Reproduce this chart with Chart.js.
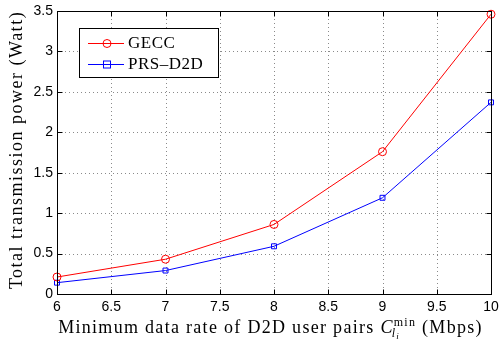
<!DOCTYPE html>
<html>
<head>
<meta charset="utf-8">
<script src="https://cdn.jsdelivr.net/npm/chart.js@4/dist/chart.umd.min.js"></script>
<style>
html,body{margin:0;padding:0;background:#fff;}
#wrap{width:499px;height:342px;position:relative;}
</style>
</head>
<body>
<div id="wrap"><canvas id="c"></canvas></div>
<script>
const rates = [6, 7, 8, 9, 10];
const geccPower = [0.21, 0.43, 0.86, 1.76, 3.46];
const prsPower = [0.14, 0.29, 0.59, 1.19, 2.37];
const seriesNames = ['GECC', 'PRS\u2013D2D'];
const xTicks = [6, 6.5, 7, 7.5, 8, 8.5, 9, 9.5, 10];
const yTicks = [0, 0.5, 1, 1.5, 2, 2.5, 3, 3.5];
const yTitle = 'Total transmission power (Watt)';
const xTitleMain = 'Minimum data rate of D2D user pairs ';
const xTitleUnit = ' (Mbps)';

const SERIF = '"Liberation Serif", "Times New Roman", serif';
const SANS = '"Liberation Sans", Arial, sans-serif';

const matlabPlugin = {
  id: 'matlab',
  beforeDatasetsDraw(chart) {
    const {ctx, chartArea: a, scales: {x, y}} = chart;
    ctx.save();
    ctx.strokeStyle = '#8a8a8a';
    ctx.lineWidth = 1;
    ctx.setLineDash([1, 3]);
    xTicks.forEach(v => {
      const px = Math.round(x.getPixelForValue(v)) + 0.5;
      if (px <= a.left + 1 || px >= a.right - 1) return;
      ctx.beginPath(); ctx.moveTo(px, a.top); ctx.lineTo(px, a.bottom); ctx.stroke();
    });
    yTicks.forEach(v => {
      const py = Math.round(y.getPixelForValue(v)) + 0.5;
      if (py <= a.top + 1 || py >= a.bottom - 1) return;
      ctx.beginPath(); ctx.moveTo(a.left, py); ctx.lineTo(a.right, py); ctx.stroke();
    });
    ctx.restore();
  },
  afterDraw(chart) {
    const {ctx, chartArea: a, scales: {x, y}} = chart;
    ctx.save();
    ctx.strokeStyle = '#000';
    ctx.lineWidth = 1;
    ctx.setLineDash([]);
    const L = Math.round(a.left) + 0.5, R = Math.round(a.right) + 0.5;
    const T = Math.round(a.top) + 0.5, B = Math.round(a.bottom) + 0.5;
    ctx.strokeRect(L, T, R - L, B - T);
    const tl = 5;
    xTicks.forEach(v => {
      const px = Math.round(x.getPixelForValue(v)) + 0.5;
      ctx.beginPath();
      ctx.moveTo(px, B); ctx.lineTo(px, B - tl);
      ctx.moveTo(px, T); ctx.lineTo(px, T + tl);
      ctx.stroke();
    });
    yTicks.forEach(v => {
      const py = Math.round(y.getPixelForValue(v)) + 0.5;
      ctx.beginPath();
      ctx.moveTo(L, py); ctx.lineTo(L + tl, py);
      ctx.moveTo(R, py); ctx.lineTo(R - tl, py);
      ctx.stroke();
    });

    // y title
    ctx.fillStyle = '#000';
    ctx.font = '18px ' + SERIF;
    ctx.letterSpacing = '1.5px';
    ctx.textAlign = 'center';
    ctx.textBaseline = 'middle';
    ctx.save();
    ctx.translate(17, 150);
    ctx.rotate(-Math.PI / 2);
    ctx.fillText(yTitle, 0, 0);
    ctx.restore();

    // x title with C_{l_i}^{min}
    const base = 333;
    const fMain = '18px ' + SERIF;
    const fC = 'italic 18px ' + SERIF;
    const fSup = '12px ' + SERIF;
    const fSub = 'italic 12px ' + SERIF;
    const fSub2 = 'italic 9px ' + SERIF;
    ctx.textAlign = 'left';
    ctx.textBaseline = 'alphabetic';
    ctx.letterSpacing = '1.3px';
    ctx.font = fMain; const w1 = ctx.measureText(xTitleMain).width;
    ctx.font = fC; const wC = ctx.measureText('C').width;
    ctx.font = fSup; const wSup = ctx.measureText('min').width;
    ctx.font = fSub; const wl = ctx.measureText('l').width;
    ctx.font = fSub2; const wi = ctx.measureText('i').width;
    const wScript = Math.max(wSup, wl + wi);
    ctx.font = fMain; const w3 = ctx.measureText(xTitleUnit).width;
    const total = w1 + wC + wScript + w3;
    let xx = 54 + (433 - total) / 2;
    ctx.font = fMain; ctx.fillText(xTitleMain, xx, base); xx += w1;
    ctx.font = fC; ctx.fillText('C', xx, base); xx += wC;
    ctx.font = fSup; ctx.fillText('min', xx, base - 7);
    ctx.font = fSub; ctx.fillText('l', xx - 2, base + 4);
    ctx.font = fSub2; ctx.fillText('i', xx - 2 + wl, base + 6);
    xx += wScript;
    ctx.font = fMain; ctx.fillText(xTitleUnit, xx, base);

    // legend
    ctx.letterSpacing = '0.5px';
    const bx = 79.5, by = 28.5, bw = 139, bh = 49;
    ctx.fillStyle = '#fff';
    ctx.fillRect(bx, by, bw, bh);
    ctx.strokeStyle = '#000';
    ctx.strokeRect(bx, by, bw, bh);
    const rows = [43, 64];
    chart.data.datasets.forEach((ds, i) => {
      const ry = rows[i] + 0.5;
      ctx.strokeStyle = ds.borderColor;
      ctx.lineWidth = 1;
      ctx.beginPath(); ctx.moveTo(88, ry); ctx.lineTo(124, ry); ctx.stroke();
      if (ds.pointStyle === 'circle') {
        ctx.beginPath(); ctx.arc(107, ry, 4, 0, Math.PI * 2); ctx.stroke();
      } else {
        ctx.strokeRect(103.5, ry - 3.5, 7, 7);
      }
      ctx.fillStyle = '#000';
      ctx.font = '17px ' + SERIF;
      ctx.textBaseline = 'middle';
      ctx.fillText(ds.label, 128, rows[i] + 1);
    });
    ctx.restore();
  }
};

new Chart(document.getElementById('c'), {
  type: 'line',
  data: {
    datasets: [
      {
        label: seriesNames[0],
        data: rates.map((r, i) => ({x: r, y: geccPower[i]})),
        borderColor: '#ff0000',
        backgroundColor: 'rgba(0,0,0,0)',
        borderWidth: 1,
        pointStyle: 'circle',
        pointRadius: 4,
        pointBorderWidth: 1,
        pointBackgroundColor: 'rgba(0,0,0,0)',
        pointBorderColor: '#ff0000',
        tension: 0,
        clip: false
      },
      {
        label: seriesNames[1],
        data: rates.map((r, i) => ({x: r, y: prsPower[i]})),
        borderColor: '#0000ff',
        backgroundColor: 'rgba(0,0,0,0)',
        borderWidth: 1,
        pointStyle: 'rect',
        pointRadius: 3.5,
        pointBorderWidth: 1,
        pointBackgroundColor: 'rgba(0,0,0,0)',
        pointBorderColor: '#0000ff',
        tension: 0,
        clip: false
      }
    ]
  },
  options: {
    responsive: true,
    maintainAspectRatio: false,
    animation: false,
    events: [],
    layout: {padding: {left: 0, top: 11, right: 8, bottom: 0}},
    plugins: {legend: {display: false}, tooltip: {enabled: false}, title: {display: false}},
    scales: {
      x: {
        type: 'linear',
        min: 6, max: 10,
        afterBuildTicks: s => { s.ticks = xTicks.map(v => ({value: v})); },
        afterFit: s => { s.height = 48; s.paddingLeft = 0; s.paddingRight = 0; },
        grid: {display: false, drawTicks: false},
        border: {display: false},
        ticks: {
          autoSkip: false, maxRotation: 0, padding: 5,
          color: '#000',
          font: {family: SANS, size: 14},
          callback: v => String(v)
        }
      },
      y: {
        type: 'linear',
        min: 0, max: 3.5,
        afterBuildTicks: s => { s.ticks = yTicks.map(v => ({value: v})); },
        afterFit: s => { s.width = 57; s.paddingTop = 0; s.paddingBottom = 0; },
        grid: {display: false, drawTicks: false},
        border: {display: false},
        ticks: {
          autoSkip: false, padding: 4,
          color: '#000',
          font: {family: SANS, size: 14},
          callback: v => String(v)
        }
      }
    }
  },
  plugins: [matlabPlugin]
});
</script>
</body>
</html>
